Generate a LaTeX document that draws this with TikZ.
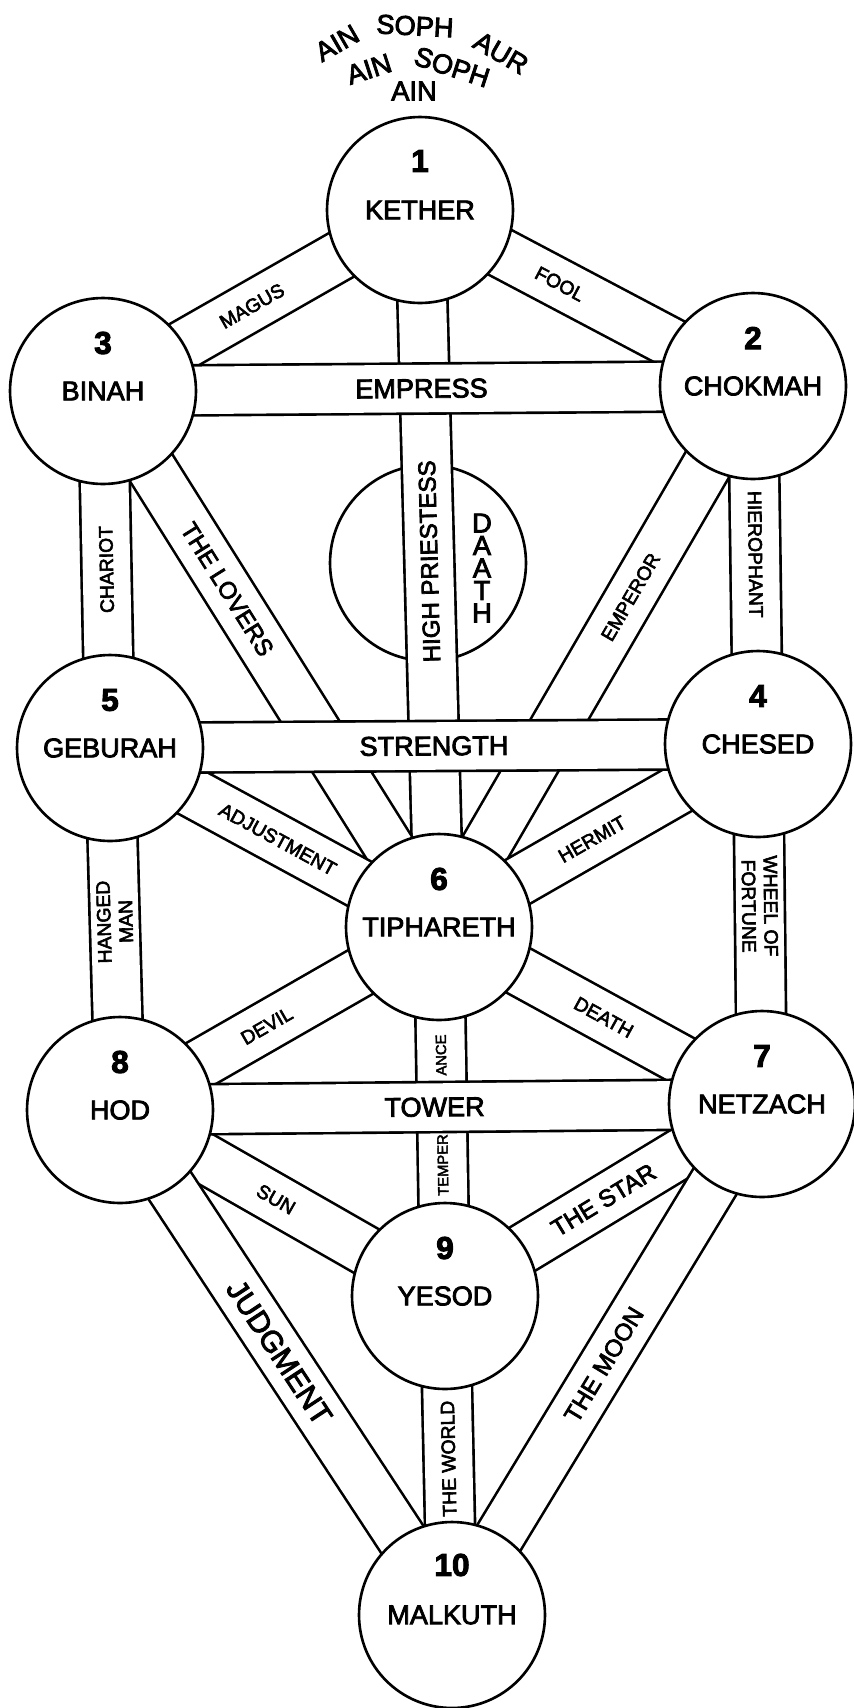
\documentclass[tikz,border=0pt]{standalone}
\usepackage{fontspec}
\setmainfont{Liberation Sans}[FakeBold=3]
\pgfdeclarelayer{bands}
\pgfsetlayers{bands,main}

\begin{document}
\begin{tikzpicture}[x=0.02cm, y=-0.02cm,
    sephira/.style={circle, draw, line width=1.5pt, fill=white,
      minimum size=3.72cm, inner sep=0pt},
    num/.style={font=\fontsize{18}{20}\selectfont\bfseries},
    sname/.style={font=\fontsize{15.4}{17}\selectfont},
    band/.style={line width=1.5pt, double=white, double distance=0.95cm},
    card/.style={sloped, allow upside down, inner sep=0pt, align=center},
    cardxs/.style={card, font=\fontsize{8.4}{10}\selectfont},
    cardsm/.style={card, font=\fontsize{11}{12.5}\selectfont},
    cardmd/.style={card, font=\fontsize{13.7}{15}\selectfont},
    cardlg/.style={card, font=\fontsize{15.4}{17}\selectfont},
    cardxl/.style={card, font=\fontsize{17}{19}\selectfont},
    crown/.style={inner sep=0pt, font=\fontsize{15.5}{17}\selectfont}]
  \useasboundingbox (0,0) rectangle (854,1708);

  % the ten sephiroth
  \node[sephira] (kether)    at (420,210)  {};
  \node[sephira] (chokmah)   at (753,386)  {};
  \node[sephira] (binah)     at (103,391)  {};
  \node[sephira] (chesed)    at (758,744)  {};
  \node[sephira] (geburah)   at (110,748)  {};
  \node[sephira] (tiphareth) at (439,927)  {};
  \node[sephira] (netzach)   at (762,1104) {};
  \node[sephira] (hod)       at (120,1110) {};
  \node[sephira] (yesod)     at (445,1296) {};
  \node[sephira] (malkuth)   at (452,1615) {};

  \node[num] at ([yshift=0.98cm]kether.center)    {1};
  \node[num] at ([yshift=0.96cm]chokmah.center)   {2};
  \node[num] at ([yshift=0.96cm]binah.center)     {3};
  \node[num] at ([yshift=0.96cm]chesed.center)    {4};
  \node[num] at ([yshift=0.96cm]geburah.center)   {5};
  \node[num] at ([yshift=0.96cm]tiphareth.center) {6};
  \node[num] at ([yshift=0.96cm]netzach.center)   {7};
  \node[num] at ([yshift=0.96cm]hod.center)       {8};
  \node[num] at ([yshift=0.96cm]yesod.center)     {9};
  \node[num] at ([yshift=1.0cm]malkuth.center)    {10};

  \node[sname] at (kether.center)    {KETHER};
  \node[sname] at (chokmah.center)   {CHOKMAH};
  \node[sname] at (binah.center)     {BINAH};
  \node[sname] at (chesed.center)    {CHESED};
  \node[sname] at (geburah.center)   {GEBURAH};
  \node[sname] at (tiphareth.center) {TIPHARETH};
  \node[sname] at (netzach.center)   {NETZACH};
  \node[sname] at (hod.center)       {HOD};
  \node[sname] at (yesod.center)     {YESOD};
  \node[sname] at (malkuth.center)   {MALKUTH};

  % veils above the crown
  \node[crown, rotate=30]  (ain1)  at (337,43) {AIN};
  \node[crown, rotate=-3]  (soph1) at (415,26) {SOPH};
  \node[crown, rotate=-30] (aur)   at (501,53) {AUR};
  \node[crown, rotate=18]  (ain2)  at (369,69) {AIN};
  \node[crown, rotate=-18] (soph2) at (452,67) {SOPH};
  \node[crown]             (ain3)  at (414,91) {AIN};

  \begin{pgfonlayer}{bands}
    \node[sephira, minimum size=3.92cm] (daath) at (428,563) {};
    % diagonal and upright paths
    \draw[band] (kether.center) -- node[cardsm, pos=.42] {FOOL} (chokmah.center);
    \draw[band] (binah.center) -- node[cardsm, pos=.47] {MAGUS} (kether.center);
    \draw[band] (tiphareth.center) -- node[cardmd, pos=.51] {HIGH PRIESTESS} (kether.center);
    \draw[band] (tiphareth.center) -- node[cardsm, pos=.61] {EMPEROR} (chokmah.center);
    \draw[band] (chokmah.center) -- node[cardsm, pos=.47] {HIEROPHANT} (chesed.center);
    \draw[band] (binah.center) -- node[cardmd, pos=.37] {THE LOVERS} (tiphareth.center);
    \draw[band] (geburah.center) -- node[cardsm, pos=.50] {CHARIOT} (binah.center);
    \draw[band] (tiphareth.center) -- node[cardsm, pos=.48] {HERMIT} (chesed.center);
    \draw[band] (chesed.center) -- node[cardsm, pos=.45] {WHEEL OF\\FORTUNE} (netzach.center);
    \draw[band] (geburah.center) -- node[cardsm, pos=.51] {ADJUSTMENT} (tiphareth.center);
    \draw[band] (hod.center) -- node[cardsm, pos=.52] {HANGED\\MAN} (geburah.center);
    \draw[band] (tiphareth.center) -- node[cardsm, pos=.51] {DEATH} (netzach.center);
    \draw[band] (yesod.center) -- node[cardxs, pos=.355] {TEMPER}
      node[cardxs, pos=.653] {ANCE} (tiphareth.center);
    \draw[band] (hod.center) -- node[cardsm, pos=.46] {DEVIL} (tiphareth.center);
    \draw[band] (yesod.center) -- node[cardmd, pos=.50] {THE STAR} (netzach.center);
    \draw[band] (malkuth.center) -- node[cardmd, pos=.49] {THE MOON} (netzach.center);
    \draw[band] (hod.center) -- node[cardsm, pos=.48] {SUN} (yesod.center);
    \draw[band] (hod.center) -- node[cardxl, pos=.48] {JUDGMENT} (malkuth.center);
    \draw[band] (malkuth.center) -- node[cardsm, pos=.49] {THE WORLD} (yesod.center);
    % the three cross bars lie over the rest
    \draw[band] (binah.center) -- node[cardlg, pos=.49] {EMPRESS} (chokmah.center);
    \draw[band] (geburah.center) -- node[cardlg, pos=.50] {STRENGTH} (chesed.center);
    \draw[band] (hod.center) -- node[cardlg, pos=.49] {TOWER} (netzach.center);
  \end{pgfonlayer}
  \node[align=center, font=\fontsize{15.5}{12.8}\selectfont]
    at ([xshift=1.08cm, yshift=-0.1cm]daath.center) {D\\A\\A\\T\\H};
\end{tikzpicture}
\end{document}
